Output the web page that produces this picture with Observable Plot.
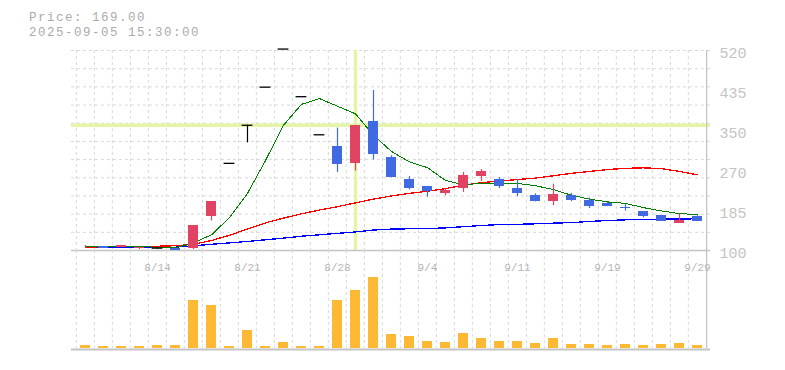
<!DOCTYPE html>
<html><head><meta charset="utf-8">
<script src="https://cdn.jsdelivr.net/npm/d3@7"></script>
<script src="https://cdn.jsdelivr.net/npm/@observablehq/plot@0.6"></script>
<style>
body{margin:0;background:#fff;}
#chart{position:relative;width:785px;height:370px;overflow:hidden;background:#fff;}
#title{position:absolute;left:29px;top:11px;font-family:"Liberation Mono",monospace;font-size:12.5px;letter-spacing:1.5px;line-height:15px;color:#ababab;white-space:pre;}
#price{position:absolute;left:0;top:0;}
#volume{position:absolute;left:0;top:250px;}
</style></head><body>
<div id="chart"><div id="price"></div><div id="volume"></div><div id="title"></div></div>
<script>
const titleLines = ["Price: 169.00", "2025-09-05 15:30:00"];
const dates = ["8/7","8/8","8/12","8/13","8/14","8/15","8/18","8/19","8/20","8/21","8/22","8/25","8/26","8/27","8/28","8/29","9/1","9/2","9/3","9/4","9/5","9/8","9/9","9/10","9/11","9/12","9/16","9/17","9/18","9/19","9/22","9/24","9/25","9/26","9/29"];
const opens  = [108,108.5,106,105,105,104.5,104,172,283,363,443,523,423,343,318,283,371,295,249,234,220,230,256,249,230,214.5,202.6,214.5,206,197.7,191,181,173,157,170.7];
const closes = [108.5,105,110.5,107,105,100.5,152,203,283,363,443,523,423,343,281,363,302,253,230,223,227,257,266,234,220,202.6,217.6,204.7,192,192,189,171.4,161,162,161];
const highs  = [110.5,108.5,111,107,107,104.5,152,203,283,363,443,523,423,343,357,363,436,299,255,234,230,264,270,253,249,219,239,220,210,201,197,181,173,177,173];
const lows   = [105,104,106,102,103,100,102,162,283,326,443,523,423,343,264,267,290,253,227,212,215,222,245,230,213,202,194,202.6,188,192,183,168.6,161,157,161];
const volumes = [45,30,30,30,45,45,680,610,30,255,30,85,30,30,680,810,1000,200,170,100,85,212,142,100,100,70,142,55,55,42,55,42,55,70,42];
const ma5  = [108,108,108,108,107,106,116,133,169,220,289,363,407,419,403,387,342,308,286,274,247,238,241,241,241,236,228,216,208,202,199,190,183,177.5,175.5];
const ma25 = [107,108,109,109,109,110,113,121,132,145,158,168,177,185,192,200,208,214.5,220,224.5,230,237,242.5,246,249,252,257,262,266,270,272.5,273.6,272,266,259];
const ma75 = [107,107,107,107,107,107,110,113,116,119,122.5,126,130,133,136,139,143,145,145.6,146,147.5,150,152.5,154.5,155,156,157.5,158.5,161,163,164.4,165,165.7,166.2,166.6];
const xTickDates = ["8/14","8/21","8/28","9/4","9/11","9/19","9/29"];
const yTickValues = [520,436,352,268,184,100];
const yTickLabels = ["520","435","350","270","185","100"];
const crossDate = "8/29";
const crossPrice = 363;

document.getElementById("title").textContent = titleLines.join("\n");

const RED = "#e04462", BLUE = "#4169e1", VOL = "#fdb933", CROSS = "#e5f5a8", GRID = "#d9d9d9", AXIS = "#c4c4c4";
const W = 785, ML = 71, MR = 75;
const bw = (W - ML - MR) / dates.length;
const rows = dates.map((date, i) => ({date, open: opens[i], high: highs[i], low: lows[i], close: closes[i], volume: volumes[i], ma5: ma5[i], ma25: ma25[i], ma75: ma75[i]}));
const col = d => d.close > d.open ? RED : d.close < d.open ? BLUE : "#000";
const hGrid = d3.range(1, 12).map(k => 100 + k * 420 / 11);
const FONT = "Liberation Mono, monospace";

const price = Plot.plot({
  width: W, height: 251, marginTop: 50, marginBottom: 1, marginLeft: ML, marginRight: MR,
  x: {type: "band", domain: dates, padding: 0, axis: null},
  y: {domain: [100, 520], axis: null},
  color: {type: "identity"},
  style: {background: "transparent", overflow: "visible"},
  marks: [
    Plot.ruleY(hGrid, {stroke: GRID, strokeDasharray: "3,3"}),
    Plot.ruleX(dates, {x: d => d, dx: -bw / 2, stroke: GRID, strokeDasharray: "3,3"}),
    Plot.ruleY([crossPrice], {stroke: CROSS, strokeWidth: 3.5}),
    Plot.ruleX([crossDate], {x: d => d, stroke: CROSS, strokeWidth: 3.5}),
    Plot.ruleY([100], {stroke: AXIS, strokeWidth: 1.3}),
    Plot.ruleX([dates[dates.length - 1]], {x: d => d, dx: bw / 2, stroke: AXIS, strokeWidth: 1.3}),
    Plot.line(rows, {x: "date", y: "ma75", stroke: "#0000ff", strokeWidth: 1.3, shapeRendering: "crispEdges"}),
    Plot.line(rows, {x: "date", y: "ma25", stroke: "#ff0000", strokeWidth: 1.3, shapeRendering: "crispEdges"}),
    Plot.line(rows, {x: "date", y: "ma5", stroke: "#008000", strokeWidth: 1, shapeRendering: "crispEdges"}),
    Plot.ruleX(rows, {x: "date", y1: "low", y2: "high", stroke: col, strokeWidth: 1.2}),
    Plot.barY(rows.filter(d => d.open !== d.close), {x: "date", y1: "open", y2: "close", fill: col, insetLeft: 3.6, insetRight: 3.6, shapeRendering: "crispEdges"}),
    Plot.tickY(rows.filter(d => d.open === d.close), {x: "date", y: "close", stroke: "#000", strokeWidth: 1.3, insetLeft: 3.6, insetRight: 3.6}),
    Plot.text(yTickValues, {y: d => d, text: (d, i) => yTickLabels[i], frameAnchor: "right", textAnchor: "start", dx: 9, dy: 2.5, fill: "#c4c4c4", fontSize: 15, fontFamily: FONT})
  ]
});
document.getElementById("price").appendChild(price);

const volume = Plot.plot({
  width: W, height: 100, marginTop: 0, marginBottom: 2, marginLeft: ML, marginRight: MR,
  x: {type: "band", domain: dates, padding: 0, axis: null},
  y: {domain: [0, 1380], axis: null},
  style: {background: "transparent", overflow: "visible"},
  marks: [
    Plot.ruleX(dates, {x: d => d, dx: -bw / 2, stroke: GRID, strokeDasharray: "3,3"}),
    Plot.ruleX([dates[dates.length - 1]], {x: d => d, dx: bw / 2, stroke: AXIS, strokeWidth: 1.3}),
    Plot.barY(rows, {x: "date", y: "volume", fill: VOL, insetLeft: 3.6, insetRight: 3.6, shapeRendering: "crispEdges"}),
    Plot.ruleY([0], {stroke: AXIS, strokeWidth: 2, dy: 1}),
    Plot.text(xTickDates, {x: d => d, frameAnchor: "top", dy: 12.5, fill: "#b5b5b5", fontSize: 11, fontFamily: FONT})
  ]
});
document.getElementById("volume").appendChild(volume);
</script>
</body></html>
